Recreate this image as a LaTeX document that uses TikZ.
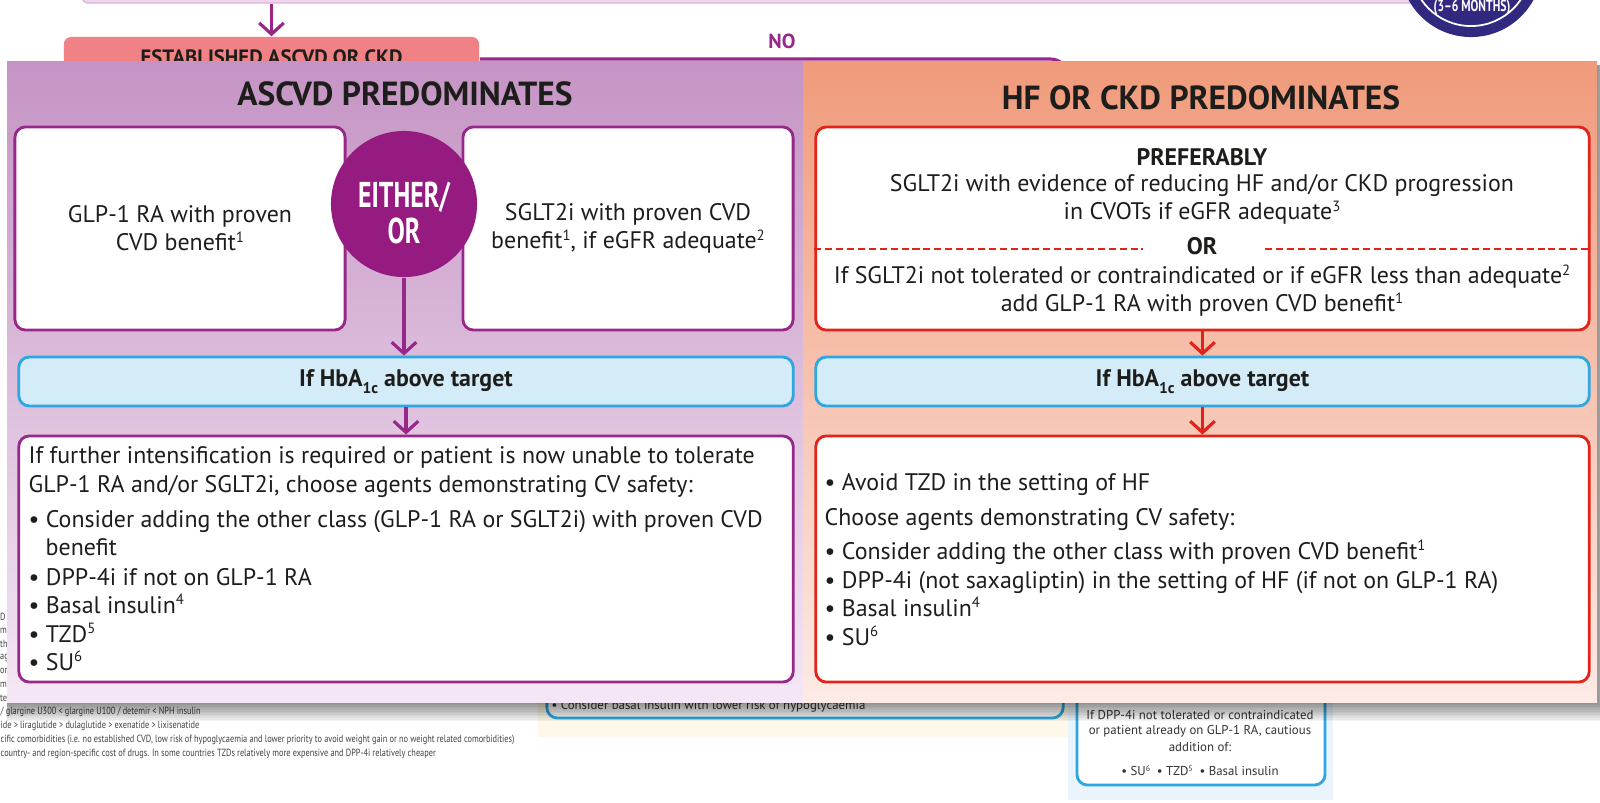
\documentclass[tikz,border=0pt]{standalone}
\usepackage{fontspec}
\setmainfont{PT Sans}
\newfontfamily\condfont{PT Sans}[FakeStretch=0.72]
\newfontfamily\notefont{PT Sans}[FakeStretch=0.8]
\usepackage{xcolor}
\usepackage{graphicx}
\usetikzlibrary{arrows.meta, positioning, calc}

\definecolor{purpleline}{HTML}{97288A}
\definecolor{eitherfill}{HTML}{951B81}
\definecolor{lavtop}{HTML}{C594C4}
\definecolor{lavbot}{HTML}{F4E7F4}
\definecolor{salmontop}{HTML}{F09A7B}
\definecolor{salmonbot}{HTML}{FDEBE5}
\definecolor{redline}{HTML}{E2231A}
\definecolor{bluefill}{HTML}{D4ECF8}
\definecolor{blueline}{HTML}{2EA6DF}
\definecolor{estabfill}{HTML}{F08285}
\definecolor{reviewblue}{HTML}{31287F}
\definecolor{topbarfill}{HTML}{EDD6EB}
\definecolor{creamfill}{HTML}{FDF8E8}
\definecolor{dppfill}{HTML}{EAF4FC}
\definecolor{textdark}{HTML}{1D1D1B}

% small footnote marks
\newcommand{\fnmark}[1]{\raisebox{0.34em}{\scalebox{0.62}{#1}}}
\newcommand{\lowmark}[1]{\raisebox{-0.3em}{\scalebox{0.65}{#1}}}

\tikzset{
  choicebox/.style={draw, fill=white, rounded corners=3pt, line width=0.8pt, inner sep=0pt},
  ascvdbox/.style={choicebox, draw=purpleline},
  hfbox/.style={choicebox, draw=redline},
  hbabox/.style={draw=blueline, fill=bluefill, rounded corners=3pt, line width=0.8pt, inner sep=0pt, minimum height=0.49cm, font=\bfseries\fontsize{6.8}{8}\selectfont, text=textdark},
  bodytxt/.style={font=\fontsize{6.8}{8}\selectfont, text=textdark},
  listline/.style={bodytxt, anchor=base west, inner sep=0pt},
  paneltitle/.style={font=\bfseries\fontsize{9.5}{11}\selectfont, text=textdark},
  notetxt/.style={font=\notefont\fontsize{2.95}{3.4}\selectfont, text=black!75, anchor=west, inner sep=0pt},
  smalltxt/.style={font=\fontsize{3.65}{4.4}\selectfont, text=black!80, inner sep=0pt},
  flowarrow/.style={line width=0.9pt, -{Straight Barb[length=3.2pt, width=7pt]}},
  ordash/.style={draw=redline, line width=0.6pt, dash pattern=on 2pt off 1.1pt},
}

\begin{document}
\begin{tikzpicture}[x=0.01cm, y=-0.01cm]
\useasboundingbox (0,0) rectangle (1600,802);
\clip (0,0) rectangle (1600,802);
\fill[white] (0,0) rectangle (1600,802);

% Sheet behind the panel
\node[draw=purpleline!35, fill=topbarfill, rounded corners=2pt, minimum width=13.5cm, minimum height=0.4cm] (topbar) at (757,-17) {};
\node[fill=estabfill, rounded corners=2pt, minimum width=4.15cm, minimum height=0.4cm, font=\bfseries\fontsize{5.9}{7}\selectfont, text=textdark] (estab) at (271.5,57) {ESTABLISHED ASCVD OR CKD};
\draw[flowarrow, purpleline] (estab |- topbar.south) -- (estab.north);
\coordinate (noturn) at (1068,59);
\coordinate (nodown) at (1068,100);
\draw[purpleline, line width=0.9pt, rounded corners=5pt] (estab.east |- noturn) -- (noturn) -- (nodown);
\node[font=\bfseries\fontsize{5.8}{7}\selectfont, text=purpleline] (nolabel) at (782,41) {NO};
\node[circle, fill=reviewblue, minimum size=1.42cm, inner sep=0pt] (review) at (1471,-34) {};
\draw[white, line width=0.5pt] (review.center) circle (0.6cm);
\node[font=\condfont\bfseries\fontsize{4.6}{5}\selectfont, text=white] (reviewtxt) at (1472,7) {(3–6 MONTHS)};

% Footnotes
\foreach \yy/\frag in {617/D, 631/m, 644/th, 658/ag, 671/or, 685/m, 698/te}
  \node[notetxt] (frag-\yy) at (-0.5,\yy) {\frag};
\node[notetxt] (note1) at (0,712) {/ glargine U300 < glargine U100 / detemir < NPH insulin};
\node[notetxt] (note2) at (0,726) {ide > liraglutide > dulaglutide > exenatide > lixisenatide};
\node[notetxt] (note3) at (0,740) {cific comorbidities (i.e. no established CVD, low risk of hypoglycaemia and lower priority to avoid weight gain or no weight related comorbidities)};
\node[notetxt] (note4) at (0,754) {country- and region-specific cost of drugs. In some countries TZDs relatively more expensive and DPP-4i relatively cheaper};

% Boxes peeking out below
\fill[creamfill] (538,690) rectangle (1071,737);
\node[draw=blueline, fill=white, rounded corners=3pt, line width=0.8pt, minimum width=5.16cm, minimum height=0.68cm] (basalbox) at (805,684) {};
\node[smalltxt, anchor=west] (basaltxt) at (551,706) {• Consider basal insulin with lower risk of hypoglycaemia};
\fill[dppfill] (1068,690) rectangle (1333,800);
\node[draw=blueline, fill=white, rounded corners=3pt, line width=0.8pt, minimum width=2.48cm, minimum height=1.2cm] (dppbox) at (1201,725) {};
\foreach \yy/\txt in {715/{If DPP-4i not tolerated or contraindicated}, 731/{or patient already on GLP-1 RA, cautious}, 747/{addition of:}, 771/{• SU\fnmark{6} \ • TZD\fnmark{5} \ • Basal insulin}}
  \node[smalltxt] (dpp-\yy) at (1200,\yy) {\txt};

% Panel shadow
\foreach \s in {1,...,12}
  \fill[black, opacity=0.045] (7,65) rectangle (1597+\s, 702+1.6*\s);

% Panel
\shade[top color=lavtop, bottom color=lavbot] (7,61) rectangle (803,702);
\shade[top color=salmontop, bottom color=salmonbot] (803,61) rectangle (1597,702);
\node[paneltitle] (ascvdtitle) at (405,94) {ASCVD PREDOMINATES};
\node[paneltitle] (hftitle) at (1201,98) {HF OR CKD PREDOMINATES};

% ASCVD side
\node[ascvdbox, bodytxt, align=center, minimum width=3.30cm, minimum height=2.03cm] (glp) at (180,228.5) {GLP-1 RA with proven\\CVD benefit\fnmark{1}};
\node[ascvdbox, bodytxt, align=center, minimum width=3.30cm, minimum height=2.03cm] (sglt) at (628,228.5) {SGLT2i with proven CVD\\benefit\fnmark{1}, if eGFR adequate\fnmark{2}};
\node[circle, fill=eitherfill, minimum size=1.46cm, inner sep=0pt] (eitheror) at (404,204) {};
\node[font=\condfont\bfseries\fontsize{10.2}{10}\selectfont, text=white, align=center] (eithertxt) at (404,213) {EITHER/\\OR};
\node[hbabox, minimum width=7.74cm] (hbaL) at (406,381.5) {If HbA\lowmark{1c} above target};
\node[ascvdbox, minimum width=7.74cm, minimum height=2.46cm] (nextL) at (406,559) {};
\draw[flowarrow, purpleline] (eitheror) -- (eitheror |- hbaL.north);
\draw[flowarrow, purpleline] (hbaL) -- (nextL);
\foreach \yy/\xx/\txt in {463/28/{If further intensification is required or patient is now unable to tolerate},
    492/28/{GLP-1 RA and/or SGLT2i, choose agents demonstrating CV safety:},
    527/28/{• Consider adding the other class (GLP-1 RA or SGLT2i) with proven CVD},
    555/45/{benefit},
    585/28/{• DPP-4i if not on GLP-1 RA},
    613/28/{• Basal insulin\fnmark{4}},
    642/28/{• TZD\fnmark{5}},
    670/28/{• SU\fnmark{6}}}
  \node[listline] (left-\yy) at (\xx,\yy) {\txt};

% HF or CKD side
\node[hfbox, minimum width=7.73cm, minimum height=2.03cm] (pref) at (1202.5,228.5) {};
\node[bodytxt, font=\bfseries\fontsize{6.8}{8}\selectfont] (preftitle) at (1202,157) {PREFERABLY};
\node[bodytxt] (pref1) at (1202,186) {SGLT2i with evidence of reducing HF and/or CKD progression};
\node[bodytxt] (pref2) at (1202,213) {in CVOTs if eGFR adequate\fnmark{3}};
\node[bodytxt, font=\bfseries\fontsize{6.8}{8}\selectfont] (ortxt) at (1202,246) {OR};
\coordinate (orL) at (1143,249);
\coordinate (orR) at (1265,249);
\draw[ordash] (pref.west |- orL) -- (orL);
\draw[ordash] (orR) -- (pref.east |- orR);
\node[bodytxt] (pref3) at (1202,277) {If SGLT2i not tolerated or contraindicated or if eGFR less than adequate\fnmark{2}};
\node[bodytxt] (pref4) at (1202,305) {add GLP-1 RA with proven CVD benefit\fnmark{1}};
\node[hbabox, minimum width=7.73cm] (hbaR) at (1202.5,381.5) {If HbA\lowmark{1c} above target};
\node[hfbox, minimum width=7.73cm, minimum height=2.46cm] (nextR) at (1202.5,559) {};
\draw[flowarrow, redline] (pref) -- (hbaR);
\draw[flowarrow, redline] (hbaR) -- (nextR);
\foreach \yy/\xx/\txt in {490/824/{• Avoid TZD in the setting of HF},
    525/824/{Choose agents demonstrating CV safety:},
    559/824/{• Consider adding the other class with proven CVD benefit\fnmark{1}},
    588/824/{• DPP-4i (not saxagliptin) in the setting of HF (if not on GLP-1 RA)},
    616/824/{• Basal insulin\fnmark{4}},
    645/824/{• SU\fnmark{6}}}
  \node[listline] (right-\yy) at (\xx,\yy) {\txt};
\end{tikzpicture}
\end{document}
